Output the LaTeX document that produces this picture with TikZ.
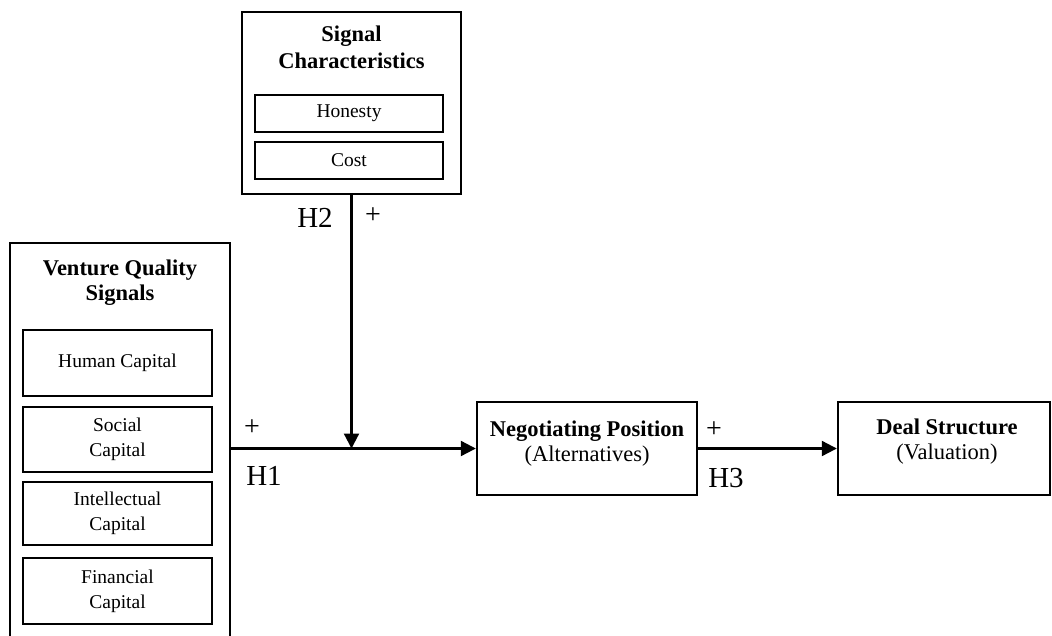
\documentclass[tikz,border=0pt]{standalone}
\usepackage{fontspec}
\setmainfont{Liberation Serif}
\usetikzlibrary{arrows.meta}
\begin{document}
\begin{tikzpicture}[x=1pt,y=-1pt,
  box/.style={draw,line width=2.4pt,rectangle,inner sep=0pt},
  small/.style={font=\fontsize{19.5}{25}\selectfont,align=center},
  title/.style={font=\fontsize{22.5}{26}\selectfont\bfseries,align=center},
  twoline/.style={font=\fontsize{22.5}{25}\selectfont,align=center},
  hlab/.style={font=\fontsize{29}{30}\selectfont},
  plus/.style={font=\fontsize{28}{30}\selectfont},
  arr/.style={line width=2.2pt,-{Triangle[length=15pt,width=15pt]}}]
\useasboundingbox (0,0) rectangle (1052,635);
\clip (0,0) rectangle (1052,635);
% Signal characteristics
\node[box,minimum width=219pt,minimum height=182pt] (sig) at (351.5,103) {};
\node[title,font=\fontsize{22.5}{27}\selectfont\bfseries] (sigt) at (351.5,47) {Signal\\Characteristics};
\node[box,small,minimum width=188pt,minimum height=37pt] (hon) at (349,113.5) {Honesty};
\node[box,small,minimum width=188pt,minimum height=37pt] (cost) at (349,160.5) {Cost};
% Venture quality signals
\node[box,minimum width=220pt,minimum height=407pt] (ven) at (120,446.5) {};
\node[title,font=\fontsize{22.5}{25}\selectfont\bfseries] (vent) at (120,283) {Venture Quality\\Signals};
\node[box,small,minimum width=189pt,minimum height=66pt] (hum) at (117.5,363) {Human Capital};
\node[box,small,minimum width=189pt,minimum height=65pt] (soc) at (117.5,439.5) {Social\\Capital};
\node[box,small,minimum width=189pt,minimum height=63pt] (int) at (117.5,513.5) {Intellectual\\Capital};
\node[box,small,minimum width=189pt,minimum height=66pt] (fin) at (117.5,591) {Financial\\Capital};
% Negotiating position
\node[box,minimum width=220pt,minimum height=93pt] (neg) at (587,448.5) {};
\node[twoline] (negt) at (587,444) {\textbf{Negotiating Position}\\(Alternatives)};
% Deal structure
\node[box,minimum width=212pt,minimum height=93pt] (deal) at (944,448.5) {};
\node[twoline] (dealt) at (947,442) {\textbf{Deal Structure}\\(Valuation)};
% connectors
\coordinate (m) at (sig.south |- neg.west);
\draw[arr] (ven.east |- neg.west) -- (neg.west);
\draw[arr] (sig.south) -- (m);
\draw[arr] (neg.east) -- (deal.west);
% labels
\node[plus] (p1) at (252,428) {+};
\node[plus] (p2) at (373,216) {+};
\node[plus] (p3) at (714,430) {+};
\node[hlab] (h1) at (264,476) {H1};
\node[hlab] (h2) at (315,218) {H2};
\node[hlab] (h3) at (726,478) {H3};
\end{tikzpicture}
\end{document}
